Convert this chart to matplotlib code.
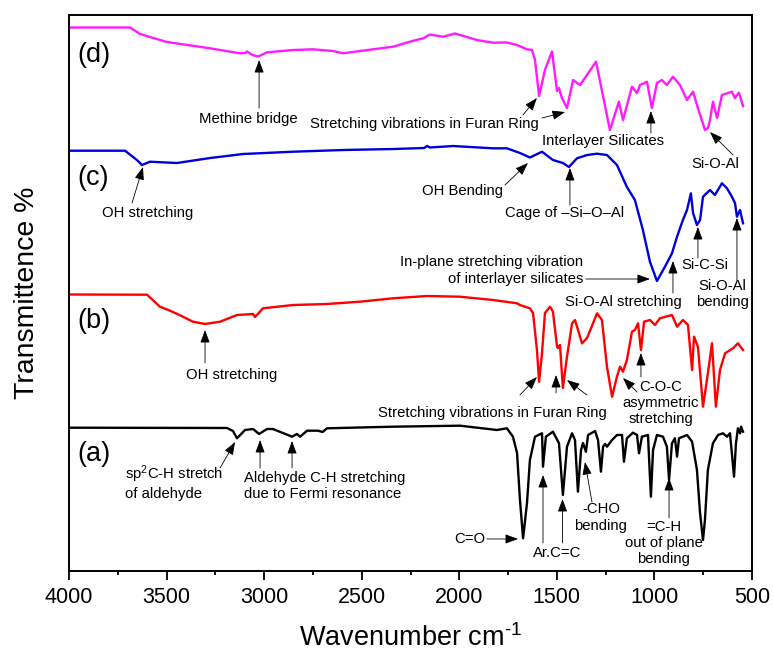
import matplotlib
matplotlib.use("Agg")
import matplotlib.pyplot as plt
from matplotlib.ticker import MultipleLocator

plt.rcParams['font.family'] = ['Liberation Sans', 'DejaVu Sans']
plt.rcParams['mathtext.default'] = 'regular'

# FTIR spectra, transmittance in arbitrary units, traces stacked by offset
wn_d = [4000, 3687, 3636, 3498, 3277, 3124, 3098, 3088, 3060, 3031, 2985, 2852, 2750, 2647, 2596,
        2509, 2340, 2253, 2180, 2165, 2150, 2083, 2022, 1909, 1827, 1756, 1704, 1653, 1627, 1612,
        1591, 1561, 1525, 1499, 1489, 1474, 1448, 1417, 1381, 1299, 1228, 1182, 1161, 1115, 1089,
        1074, 1038, 1013, 987, 962, 936, 905, 869, 833, 802, 777, 741, 726, 715, 700,
        679, 654, 603, 587, 567, 546]
t_d = [543.5, 543.5, 537, 529, 522.7, 517.7, 518, 519.5, 516, 514.5, 518.7, 521, 521.7, 520, 517.7,
       520, 524.3, 529.3, 533, 535, 536.5, 534.3, 537.5, 531, 528.3, 528.5, 526, 521.7, 521, 511,
       475, 501, 519.5, 480, 483, 473, 463, 491, 486, 509.3, 441, 469.3, 451, 484.3, 478,
       486, 489.3, 463, 488, 491, 486, 494.3, 486, 471, 479.3, 463, 441, 443, 451, 469.3,
       453, 476, 479.3, 473, 478.3, 465]

wn_c = [4000, 3713, 3652, 3626, 3585, 3447, 3277, 3108, 2852, 2596, 2340, 2180, 2165, 2150, 2032,
        1827, 1756, 1689, 1638, 1576, 1520, 1469, 1438, 1397, 1345, 1294, 1243, 1192, 1141, 1100,
        1059, 1023, 987, 946, 910, 884, 854, 833, 813, 802, 782, 766, 751, 715, 690,
        654, 628, 603, 587, 577, 561, 546]
t_c = [420.3, 420.3, 411, 406, 409.3, 408, 413, 417, 419.3, 421, 422, 423, 425, 423.5, 425,
       422.7, 422.7, 418, 413.5, 419.3, 411, 408, 404, 412.7, 416, 417.3, 416, 406, 384, 371,
       341, 309.3, 290, 304.3, 317.7, 334.3, 351, 361, 377.7, 358, 346, 351, 374.3, 381, 376,
       387.7, 382.7, 374.3, 368, 354.3, 361, 347.7]

wn_b = [4000, 3600, 3534, 3482, 3416, 3365, 3303, 3226, 3139, 3057, 3047, 3006, 2852, 2678, 2509,
        2340, 2165, 1996, 1827, 1704, 1689, 1638, 1622, 1602, 1591, 1576, 1561, 1535, 1520, 1499,
        1494, 1484, 1469, 1448, 1422, 1407, 1371, 1345, 1294, 1269, 1243, 1217, 1192, 1176, 1161,
        1141, 1115, 1100, 1084, 1069, 1053, 1023, 997, 972, 910, 884, 854, 828, 807, 797,
        777, 751, 726, 705, 685, 664, 638, 597, 572, 546]
t_b = [276.5, 276.3, 264.3, 260.3, 254.3, 249.3, 247, 249.3, 256, 257, 254, 262.7, 266, 267, 269.3,
       272.7, 275, 274.3, 271, 267.7, 266, 262.7, 258, 221, 189.3, 218, 258, 264.3, 259.3, 224.3,
       223, 226, 183, 214.3, 247.7, 251, 227.7, 233, 257.7, 251, 204.3, 174.3, 194.3, 204.3, 199.3,
       211, 239.3, 241, 247.7, 221, 249.3, 251, 246, 252.7, 256, 244.3, 251, 246, 201, 234.3,
       224.3, 164.3, 197.7, 227.7, 164.3, 201, 217.7, 222.7, 227.7, 221]

wn_a = [4000, 3190, 3160, 3139, 3098, 3057, 3026, 2985, 2955, 2857, 2832, 2816, 2780, 2724, 2700,
        2678, 2340, 1996, 1807, 1756, 1725, 1704, 1689, 1673, 1653, 1638, 1612, 1576, 1571, 1556,
        1520, 1489, 1469, 1448, 1422, 1407, 1392, 1376, 1366, 1351, 1340, 1304, 1289, 1274, 1263,
        1253, 1243, 1217, 1192, 1166, 1156, 1141, 1110, 1089, 1079, 1064, 1033, 1018, 1007, 987,
        956, 936, 925, 910, 895, 884, 874, 833, 807, 782, 766, 751, 741, 726, 700,
        674, 649, 628, 613, 603, 592, 582, 572, 561, 556, 546]
t_a = [143.3, 143, 140, 132.7, 141, 142, 137, 142, 142, 134.3, 137, 134.3, 140.3, 140.3, 139,
       142.7, 144.3, 145.3, 141, 142.7, 134.3, 118, 71, 32.7, 68, 111, 134.3, 137.7, 104.3, 134.3,
       139.3, 127.7, 76, 124.3, 137.7, 131, 79.3, 121, 128, 119.3, 136, 140, 131, 99.3, 124.3,
       127, 124.3, 131, 136, 136, 109.3, 132.7, 138.3, 136, 117.7, 134.3, 136, 74.3, 121, 136,
       134.3, 124.3, 91, 127.7, 132.7, 114.3, 132.7, 136, 129.3, 101, 57.7, 31, 51, 101, 127.7,
       136, 137.7, 134.3, 137.7, 117.7, 94.3, 127.7, 142.7, 137.7, 144.3, 139.3]

traces = [
    ("(d)", wn_d, t_d, "#ff1aff", 516),
    ("(c)", wn_c, t_c, "#0000dd", 393),
    ("(b)", wn_b, t_b, "#ff0000", 250),
    ("(a)", wn_a, t_a, "black", 117),
]

# peak labels: text, text position, ha, list of (tail, tip) arrows
labels = [
    ("Methine bridge", (3083, 452), "center", [((3026, 463), (3026, 511))]),
    ("Stretching vibrations in Furan Ring", (2181, 447), "center",
     [((1674, 456), (1602, 473)), ((1576, 453), (1458, 459))]),
    ("Interlayer Silicates", (1264, 430), "center", [((1018, 438), (1018, 460))]),
    ("Si-O-Al", (690, 407), "center", [((597, 416), (715, 439))]),
    ("OH stretching", (3595, 358), "center", [((3677, 368), (3621, 404))]),
    ("OH Bending", (1981, 380), "center", [((1766, 386), (1648, 408))]),
    ("Cage of \u2013Si\u2013O\u2013Al", (1463, 358), "center", [((1433, 366), (1433, 403))]),
    ("In-plane stretching vibration\nof interlayer silicates", (1366, 300.5), "right",
     [((1351, 292), (1023, 292))]),
    ("Si-O-Al stretching", (1161, 269), "center", [((905, 278), (905, 310))]),
    ("Si-C-Si", (741, 306), "center", [((777, 313), (777, 344))]),
    ("Si-O-Al\nbending", (652, 277), "center", [((577, 291), (577, 353))]),
    ("OH stretching", (3165, 196), "center", [((3303, 208), (3303, 241))]),
    ("Stretching vibrations in Furan Ring", (1832, 158), "center",
     [((1689, 176), (1602, 194)), ((1504, 178), (1504, 196)), ((1346, 176), (1448, 191))]),
    ("C-O-C\nasymmetric\nstretching", (967, 168), "center",
     [((1069, 194), (1069, 218)), ((1089, 179), (1161, 193))]),
    ("sp$^2$C-H stretch\nof aldehyde", (3713, 89), "left", [((3226, 103), (3149, 129))]),
    ("Aldehyde C-H stretching\ndue to Fermi resonance", (3103, 85), "left",
     [((3021, 103), (3021, 131)), ((2857, 103), (2857, 130))]),
    ("C=O", (1945, 32), "center", [((1858, 32), (1699, 32))]),
    ("Ar.C=C", (1499, 18), "center", [((1571, 28), (1571, 96)), ((1471, 28), (1471, 72))]),
    ("-CHO\nbending", (1274, 53.5), "center", [((1320, 69), (1356, 109))]),
    ("=C-H\nout of plane\nbending", (951, 28), "center", [((925, 53), (925, 93))]),
]

fig = plt.figure(figsize=(7.73, 6.53), dpi=100)
ax = fig.add_axes([0.0893, 0.1256, 0.8835, 0.8514])

for name, wn, t, color, ylab in traces:
    ax.plot(wn, t, color=color, lw=1.7)
    ax.text(3957, ylab, name, fontsize=19.5, ha="left", va="center")

for text, (tx, ty), ha, arrows in labels:
    ax.text(tx, ty, text, fontsize=10.7, ha=ha, va="center", linespacing=1.2)
    for tail, tip in arrows:
        ax.annotate("", xy=tip, xytext=tail,
                    arrowprops=dict(arrowstyle="-|>,head_length=0.65,head_width=0.24",
                                    color="black", lw=0.6, mutation_scale=12,
                                    shrinkA=0, shrinkB=0))

ax.set_xlim(4000, 500)
ax.set_ylim(0, 556)
ax.xaxis.set_major_locator(MultipleLocator(500))
ax.xaxis.set_minor_locator(MultipleLocator(250))
ax.set_yticks([])
ax.tick_params(axis="x", which="major", direction="out", length=6.5, width=1.3,
               labelsize=15.5, pad=5)
ax.tick_params(axis="x", which="minor", direction="out", length=3.2, width=1.3)
for sp in ax.spines.values():
    sp.set_linewidth(1.4)

ax.set_xlabel("Wavenumber cm$^{\u2010 1}$", fontsize=19.5, labelpad=12)
ax.set_ylabel("Transmittence %", fontsize=20.5, labelpad=21)

fig.savefig("out.png", dpi=100)
